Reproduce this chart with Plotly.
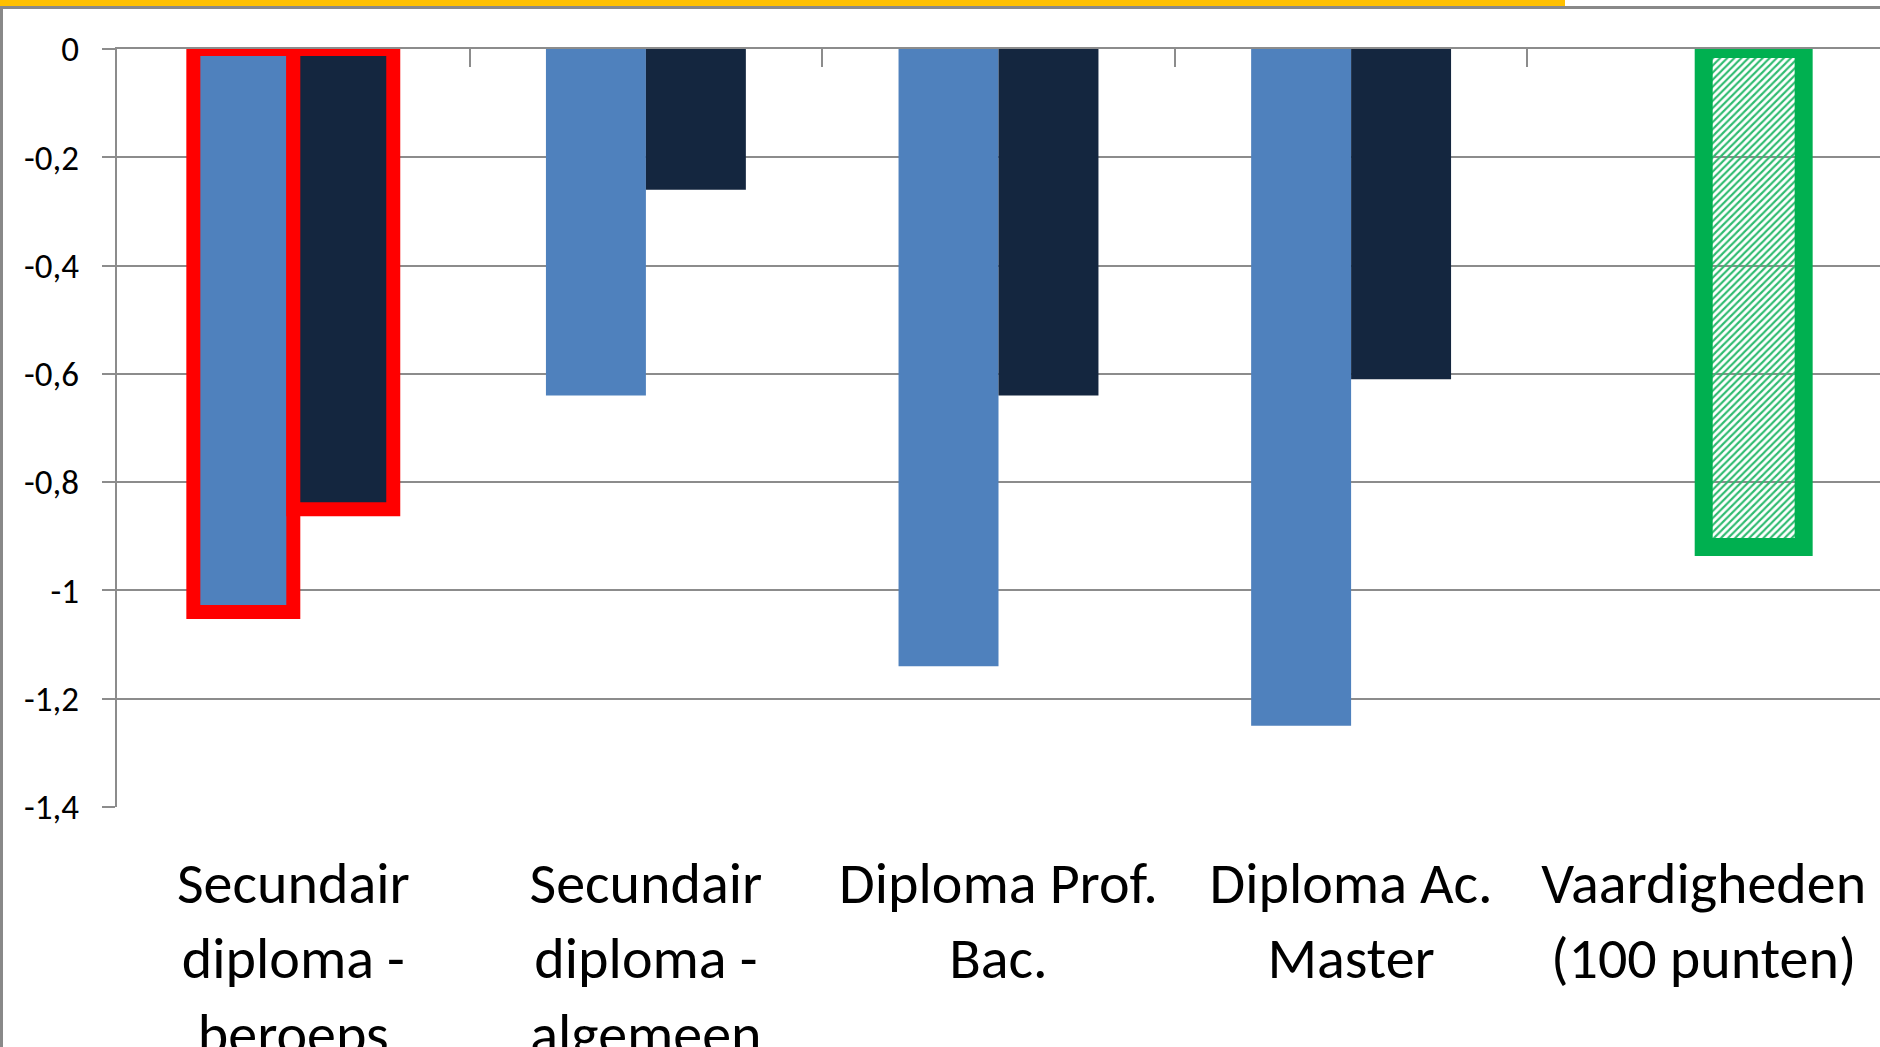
import plotly.graph_objects as go

# ---- data ----
categories = [
    "Secundair<br>diploma -<br>beroeps",
    "Secundair<br>diploma -<br>algemeen",
    "Diploma Prof.<br>Bac.",
    "Diploma Ac.<br>Master",
    "Vaardigheden<br>(100 punten)",
]
series_light = [-1.04, -0.64, -1.14, -1.25, None]
series_dark = [-0.85, -0.26, -0.64, -0.61, -0.92]
y_tickvals = [0, -0.2, -0.4, -0.6, -0.8, -1.0, -1.2, -1.4]
y_ticktext = ["0", "-0,2", "-0,4", "-0,6", "-0,8", "-1", "-1,2", "-1,4"]

# ---- styling ----
W, H = 1880, 1047
ML, MR, MT, MB = 117, 0, 49, 240
PW, PH = W - ML - MR, H - MT - MB
FONT = "Calibri, Carlito, Lato, sans-serif"
GRID = "#8c8c8c"
LIGHT = "#4F81BD"
DARK = "#14263F"
RED = "#FF0000"
GREEN = "#00B050"
HATCH = "#2fbb70"


def px_x(p):
    return (p - ML) / PW


def px_y(p):
    return (H - MB - p) / PH


fig = go.Figure()

fig.add_trace(go.Bar(
    x=categories, y=series_light, name="light",
    marker=dict(color=LIGHT,
                line=dict(color=[RED, LIGHT, LIGHT, LIGHT, LIGHT],
                          width=[14, 0, 0, 0, 0])),
    hoverinfo="skip", showlegend=False,
))
fig.add_trace(go.Bar(
    x=categories, y=series_dark, name="dark",
    marker=dict(color=[DARK, DARK, DARK, DARK, HATCH],
                line=dict(color=[RED, DARK, DARK, DARK, GREEN],
                          width=[14, 0, 0, 0, 18]),
                pattern=dict(shape=["", "", "", "", "/"],
                             bgcolor=[DARK, DARK, DARK, DARK, "white"],
                             fillmode="replace", size=5, solidity=0.42)),
    hoverinfo="skip", showlegend=False,
))
# helper trace so the top category axis (with the zero line and boundary ticks) is drawn
fig.add_trace(go.Scatter(
    x=categories, y=[None] * len(categories), xaxis="x2", mode="markers",
    hoverinfo="skip", showlegend=False,
))

fig.update_layout(
    width=W, height=H, autosize=False,
    margin=dict(l=ML, r=MR, t=MT, b=MB, pad=0, autoexpand=False),
    paper_bgcolor="white", plot_bgcolor="white",
    barmode="group", bargap=0.433, bargroupgap=0,
    font=dict(family=FONT, color="black"),
    xaxis=dict(
        type="category", categoryorder="array", categoryarray=categories,
        range=[-0.5, 4.5], showgrid=False, showline=False, zeroline=False,
        ticks="", tickfont=dict(size=58, family=FONT, color="black"),
        ticklabelstandoff=37, automargin=False,
    ),
    xaxis2=dict(
        type="category", categoryorder="array", categoryarray=categories,
        range=[-0.5, 4.5], overlaying="x", side="top", anchor="y",
        showgrid=False, zeroline=False, showline=True, linecolor=GRID, linewidth=2,
        ticks="inside", tickson="boundaries", ticklen=18, tickwidth=2, tickcolor=GRID,
        showticklabels=False, automargin=False,
    ),
    yaxis=dict(
        range=[-1.4, 0], tickvals=y_tickvals, ticktext=y_ticktext,
        showgrid=True, gridcolor=GRID, gridwidth=1.5, zeroline=False,
        showline=True, linecolor=GRID, linewidth=2,
        ticks="outside", ticklen=13, tickwidth=1.5, tickcolor=GRID,
        tickfont=dict(size=35, family=FONT, color="black"),
        ticklabelstandoff=16, automargin=False,
    ),
    shapes=[
        dict(type="rect", xref="paper", yref="paper", layer="above",
             x0=px_x(0), x1=px_x(1565), y0=px_y(6), y1=px_y(0),
             fillcolor="#FFC000", line=dict(width=0)),
        dict(type="rect", xref="paper", yref="paper", layer="above",
             x0=px_x(0), x1=px_x(W), y0=px_y(9), y1=px_y(6),
             fillcolor="#898989", line=dict(width=0)),
        dict(type="rect", xref="paper", yref="paper", layer="above",
             x0=px_x(0), x1=px_x(3), y0=px_y(H), y1=px_y(6),
             fillcolor="#898989", line=dict(width=0)),
    ],
)

fig.write_html(
    "out.html",
    config={"displayModeBar": False},
    post_script="document.body.style.margin='0';document.body.style.overflow='hidden';",
)
